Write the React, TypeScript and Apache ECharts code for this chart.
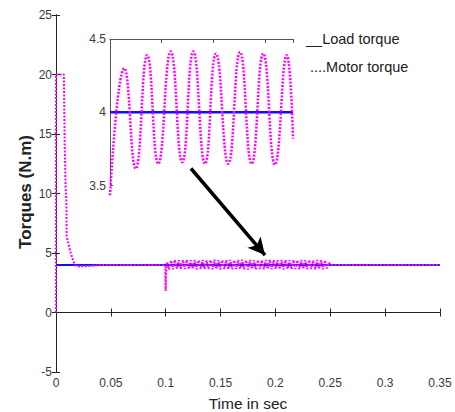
import React, { useEffect, useRef } from "react";
import * as echarts from "echarts";

// ---- Data ----
const xTicks = [0, 0.05, 0.1, 0.15, 0.2, 0.25, 0.3, 0.35];
const yTicks = [-5, 0, 5, 10, 15, 20, 25];
const insetYTicks = [3.5, 4, 4.5];

// Load torque (main)
const loadTorque: [number, number][] = [
  [0, 4],
  [0.35, 4],
];

// Motor torque transient (main)
const motorStart: [number, number][] = [
  [0, 0],
  [0, 20],
  [0.0072, 20],
  [0.0075, 17.2],
  [0.008, 13.8],
  [0.0088, 10.5],
  [0.0095, 9.2],
  [0.0097, 6.4],
  [0.011, 5.9],
  [0.0135, 5.0],
  [0.0155, 4.4],
  [0.0173, 4.0],
  [0.019, 3.86],
  [0.025, 3.88],
  [0.032, 3.92],
  [0.038, 3.97],
  [0.045, 4.0],
  [0.0995, 4.0],
  [0.1, 1.8],
  [0.1005, 3.9],
];
// Motor torque oscillation 0.1 .. 0.25 s (main), sampled every half-period
const mainOscStart = 0.1012;
const mainOscStep = 0.0018;
const mainOscValues = [
  4.25, 3.62, 4.38, 3.64, 4.42, 3.66, 4.4, 3.63, 4.41, 3.65,
  4.43, 3.64, 4.39, 3.66, 4.41, 3.62, 4.4, 3.65, 4.42, 3.63,
  4.38, 3.66, 4.41, 3.64, 4.43, 3.65, 4.4, 3.62, 4.41, 3.66,
  4.39, 3.64, 4.42, 3.63, 4.4, 3.65, 4.41, 3.66, 4.43, 3.64,
  4.39, 3.62, 4.41, 3.65, 4.4, 3.63, 4.42, 3.66, 4.38, 3.64,
  4.41, 3.65, 4.43, 3.63, 4.4, 3.66, 4.39, 3.64, 4.42, 3.62,
  4.41, 3.65, 4.4, 3.63, 4.42, 3.66, 4.39, 3.64, 4.41, 3.65,
  4.4, 3.63, 4.42, 3.66, 4.38, 3.64, 4.41, 3.65, 4.4, 3.63,
  4.39, 3.7, 4.2,
];
const motorEnd: [number, number][] = [
  [0.25, 4.0],
  [0.35, 4.0],
];

// Inset (zoomed view of the oscillation)
const insetXMax = 3.54;
const insetLoad: [number, number][] = [
  [0, 4],
  [insetXMax, 4],
];
const insetMotor: [number, number][] = [
  [0, 3.435],
  [0.277, 4.3],
  [0.497, 3.617],
  [0.72, 4.39],
  [0.934, 3.65],
  [1.174, 4.415],
  [1.398, 3.66],
  [1.611, 4.415],
  [1.838, 3.65],
  [2.05, 4.4],
  [2.288, 3.65],
  [2.515, 4.41],
  [2.74, 3.65],
  [2.965, 4.4],
  [3.19, 3.644],
  [3.418, 4.39],
  [insetXMax, 3.82],
];

// Arrow annotation (data coordinates of main plot)
const arrowFrom: [number, number] = [0.123, 12.1];
const arrowTo: [number, number] = [0.1905, 4.83];

const legendLoad = "__Load torque";
const legendMotor = "....Motor torque";
const xTitle = "Time in sec";
const yTitle = "Torques (N.m)";

const MAGENTA = "#ff00ff";
const BLUE = "#1010ff";
const FONT = "'Liberation Sans', Arial, sans-serif";

export default function App() {
  const ref = useRef<HTMLDivElement>(null);
  useEffect(() => {
    if (!ref.current) return;
    const chart = echarts.init(ref.current, undefined, { renderer: "svg" });

    const motorMain: [number, number][] = [
      ...motorStart,
      ...mainOscValues.map((v, i) => [mainOscStart + i * mainOscStep, v] as [number, number]),
      ...motorEnd,
    ];

    const axisLine = { show: true, lineStyle: { color: "#222", width: 1 } };
    const insetLine = { show: true, lineStyle: { color: "#555", width: 1 } };
    const tickIn = { show: true, inside: true, length: 4, lineStyle: { color: "#222" } };
    const labelStyle = { color: "#3a3a3a", fontSize: 12, fontFamily: FONT };

    chart.setOption({
      animation: false,
      backgroundColor: "#fff",
      grid: [
        { left: 56, top: 15, width: 384, height: 357 },
        { left: 110, top: 39, width: 183, height: 146.7 },
      ],
      xAxis: [
        {
          gridIndex: 0, type: "value", position: "bottom", min: xTicks[0], max: xTicks[xTicks.length - 1], interval: 0.05,
          axisLine, axisTick: tickIn, splitLine: { show: false },
          axisLabel: { ...labelStyle, margin: 5, formatter: (v: number) => String(+v.toFixed(2)) },
        },
        {
          gridIndex: 0, type: "value", position: "top", min: 0, max: 0.35, interval: 0.05,
          axisLine, axisTick: tickIn, splitLine: { show: false }, axisLabel: { show: false },
        },
        {
          gridIndex: 1, type: "value", position: "top", min: 0, max: insetXMax, interval: 1,
          axisLine: insetLine, axisTick: { show: true, inside: true, length: 4, lineStyle: { color: "#555" } },
          splitLine: { show: false }, axisLabel: { show: false },
        },
      ],
      yAxis: [
        {
          gridIndex: 0, type: "value", position: "left", min: yTicks[0], max: yTicks[yTicks.length - 1], interval: 5,
          axisLine, axisTick: tickIn, splitLine: { show: false },
          axisLabel: { ...labelStyle, margin: 4 },
        },
        {
          gridIndex: 0, type: "value", position: "right", min: -5, max: 25, interval: 5,
          axisLine, axisTick: tickIn, splitLine: { show: false }, axisLabel: { show: false },
        },
        {
          gridIndex: 1, type: "value", position: "left", min: insetYTicks[0], max: insetYTicks[insetYTicks.length - 1], interval: 0.5,
          axisLine: insetLine, axisTick: { show: true, inside: true, length: 3, lineStyle: { color: "#555" } },
          splitLine: { show: false },
          axisLabel: { ...labelStyle, margin: 4 },
        },
      ],
      series: [
        {
          type: "line", xAxisIndex: 0, yAxisIndex: 0, data: loadTorque, symbol: "none",
          lineStyle: { color: BLUE, width: 2 }, z: 2,
          markLine: {
            silent: true, symbol: ["none", "arrow"], symbolSize: [13, 17],
            lineStyle: { color: "#000", width: 3.5, type: "solid" },
            label: { show: false },
            data: [[{ coord: arrowFrom }, { coord: arrowTo }]],
          },
        },
        {
          type: "line", xAxisIndex: 0, yAxisIndex: 0, data: motorMain, symbol: "none",
          lineStyle: { color: MAGENTA, width: 2, type: [2, 1.5] }, z: 3,
        },
        {
          type: "line", xAxisIndex: 2, yAxisIndex: 2, data: insetLoad, symbol: "none",
          lineStyle: { color: BLUE, width: 2.5 }, z: 2,
        },
        {
          type: "line", xAxisIndex: 2, yAxisIndex: 2, data: insetMotor, symbol: "none", smooth: 0.5, clip: false,
          lineStyle: { color: MAGENTA, width: 2.5, type: [2, 1.5] }, z: 3,
        },
      ],
      graphic: [
        {
          type: "text", left: 306, top: 31,
          style: { text: legendLoad, fill: "#222", font: `14.5px ${FONT}` },
        },
        {
          type: "text", left: 310, top: 59,
          style: { text: legendMotor, fill: "#222", font: `14.5px ${FONT}` },
        },
        {
          type: "text", x: 248, y: 403,
          style: { text: xTitle, fill: "#222", font: `15.5px ${FONT}`, align: "center", verticalAlign: "middle" },
        },
        {
          type: "text", x: 25, y: 192, rotation: Math.PI / 2,
          style: { text: yTitle, fill: "#222", font: `bold 17px ${FONT}`, align: "center", verticalAlign: "middle" },
        },
      ],
    });
    return () => chart.dispose();
  }, []);
  return <div ref={ref} style={{ position: "fixed", left: 0, top: 0, width: 455, height: 412 }} />;
}
